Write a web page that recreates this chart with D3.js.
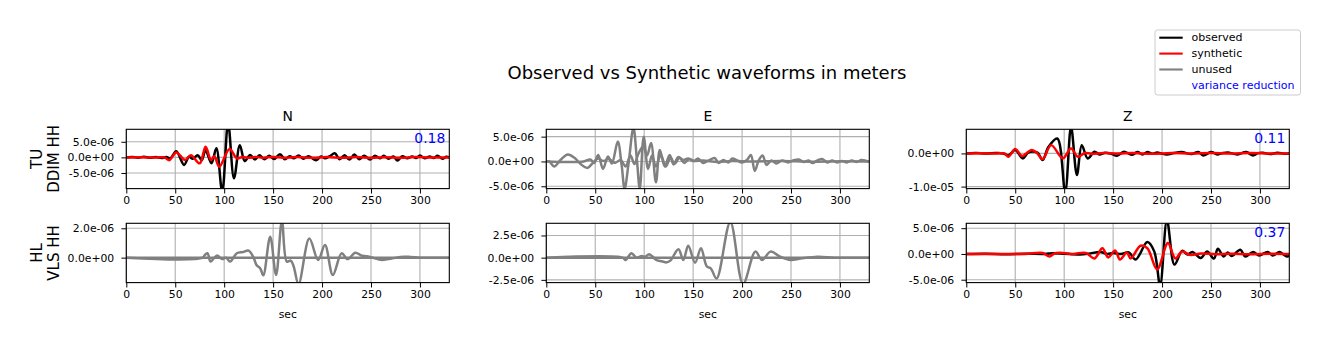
<!DOCTYPE html>
<html>
<head>
<meta charset="utf-8">
<script src="https://cdn.jsdelivr.net/npm/d3@7"></script>
<style>
    body { margin: 0; background: #fff; }
    text { font-family: "DejaVu Sans", sans-serif; }
</style>
</head>
<body>
<div id="chart"></div>
<script>
// values are in micrometers (1e-6 m), times in seconds
const UNIT = 1e-6;
const timeDomain = [0, 330];
const timeTicks = [0, 50, 100, 150, 200, 250, 300];
const components = ["N", "E", "Z"];
const stations = [["TU", "DDIM HH"], ["HL", "VLS HH"]];

// TU DDIM HH
const obsTU_N = [[0,0],[6,0.15],[12,-0.1],[18,0.2],[24,-0.15],[30,0.1],[36,-0.2],[41,0.1],[45,-0.3],[51,2.0],[59,-2.4],[64,0.2],[68,-0.4],[73,0.7],[77,-0.9],[81,2.3],[87,-1.9],[92,2.9],[98,-11],[104,11],[110,-6.7],[116,3.9],[121,-1.2],[126.5,0.8],[131.5,-0.7],[136,0.7],[141,-0.6],[146,0.5],[151,-0.5],[157,1.0],[162,-0.6],[167,0.4],[171,-0.3],[176,0.6],[181,-0.4],[186,0.4],[194,-0.9],[199,0.3],[203,-0.3],[208,0.4],[213,1.3],[218,-0.6],[223,0.7],[228,-0.7],[233,0.9],[238,-0.6],[243,0.5],[249,-0.7],[254,0.5],[259,-0.3],[263,0.5],[268,-0.4],[273,0.3],[277,-1.0],[282,0.4],[287,-0.3],[292,0.3],[296,-0.2],[300,0.6],[305,-0.3],[310,0.3],[314,-0.2],[318,0.5],[323,-0.4],[327,0.2],[330,0]];
const synTU_N = [[0,0],[15,0.05],[30,-0.05],[39,0],[44,-0.9],[51,1.6],[60,-0.8],[66,0.7],[75,-1.9],[81,3.4],[86.5,-0.8],[90,0.4],[95,-3.0],[105.5,2.7],[113,-0.3],[119,0.15],[125,-0.15],[132,0.1],[140,-0.1],[150,0.15],[160,-0.1],[175,0.1],[190,-0.1],[205,0.1],[220,-0.15],[235,0.1],[250,-0.1],[265,0.05],[280,-0.15],[295,0.1],[310,-0.05],[330,0]];
const obsTU_E = [[0,0],[38,0],[45,0.4],[49,-0.3],[53,1.3],[58,-1.5],[63,1.0],[67,-0.4],[73,4.0],[77,-0.8],[80,-5.5],[84,-0.5],[89,6.8],[92.5,0.5],[95.5,-5.5],[99.5,5.0],[104,-1.5],[108,1.2],[112,-1.0],[117,1.3],[122,-1.0],[127,0.8],[131,-0.5],[136,0.7],[141,-0.3],[146,0.5],[151,0.1],[155,0.6],[160,-0.3],[166,0.2],[172,0.7],[176,-0.3],[181,0.3],[186,-0.2],[190,0.6],[195,0.2],[200,-0.2],[205,0.3],[209,1.3],[213,-1.9],[217,0.2],[221,1.2],[225,-0.7],[230,0.2],[235,-0.4],[241,0.2],[247,-0.2],[252,0.2],[258,0.4],[263,-0.1],[268,0.2],[272,-0.3],[277,0.2],[282,0.5],[287,-0.2],[292,0.2],[297,-0.2],[302,0.1],[307,-0.2],[312,0.2],[317,-0.1],[322,0.3],[327,0.1],[330,0]];
const synTU_E = [[0,0],[3,0],[8,-1.0],[15,0.4],[22,1.4],[29,0.7],[35,-0.5],[42,-1.3],[48,-0.2],[53,0.6],[58,0.1],[64,0.5],[70,-0.3],[76,0.3],[81,-1.0],[86,1.2],[90,-0.5],[94,1.5],[99,3.0],[103,1.2],[107,3.7],[112,-4.2],[116,2.3],[121,-1.0],[126,1.3],[130,-0.6],[135,0.9],[140,0.3],[145,0.6],[150,0.1],[160,0.2],[175,-0.1],[190,0.1],[210,0],[240,0.1],[270,-0.05],[300,0.05],[330,0]];
const obsTU_Z = [[0,0],[10,0.1],[20,-0.05],[30,0.1],[38,0],[43,-0.6],[50,1.0],[57.7,-1.5],[63,0.2],[68,0.6],[73,0.2],[78,-2.0],[84,2.0],[93,4.5],[101,-11.5],[107,8],[113,-6.5],[118,2.5],[124,-1.5],[131,0.5],[136,-0.3],[142,0.2],[148,-0.1],[154,-0.7],[161,0.5],[169,-0.4],[175,0.4],[180,-0.3],[185,0.4],[190,-0.1],[195,0.3],[200,-0.1],[205,-0.3],[212,0.1],[220,0.4],[230,-0.2],[237,0.4],[242,-0.6],[250,0.4],[257,-0.3],[262,0.1],[267,0.3],[277,-0.3],[286,0.4],[293,-0.6],[298,0.1],[303,0.2],[310,-0.2],[318,0.2],[325,-0.1],[330,0]];
const synTU_Z = [[0,0],[15,0.05],[30,-0.05],[39,0],[43,-1.0],[50,1.3],[57,-0.8],[62,0.2],[67,1.0],[72,0.2],[78,-1.7],[86.7,2.5],[98.6,-1.5],[107,1.5],[114,-1.0],[121,0.1],[128,-0.1],[140,0.1],[155,-0.05],[170,0.1],[190,-0.1],[210,0.1],[230,-0.05],[250,0.1],[270,-0.05],[290,0.1],[310,-0.05],[330,0]];

// HL VLS HH
const obsHL_N = [[0,0],[330,0]];
const synHL_N = [[0,0],[78,0],[80.5,0.2],[83,0.3],[86,-0.27],[90,0.0],[93,0.14],[98,-0.1],[102,0.0],[106,-0.27],[113,0.3],[119,0.38],[125,0.48],[130,0.0],[133,-0.5],[137,-0.75],[140,-1.2],[147,1.43],[153,-1.18],[159,2.5],[164,-0.27],[168,-0.2],[171,-0.6],[176,-1.8],[187,1.3],[196,-0.16],[203,0.86],[211,-1.18],[220,0.3],[226,-0.1],[234,0.34],[240,0.15],[246,0.1],[254,-0.05],[260,-0.15],[268,-0.1],[280,0.05],[290,0.05],[300,0],[330,0]];
const obsHL_E = [[0,0],[330,0]];
const synHL_E = [[0,0],[78,0],[81,-0.26],[87,0.5],[92,0.0],[97.5,0.2],[101,0.1],[105,0.38],[112.7,-0.27],[118,-0.4],[123,-0.53],[127,-0.3],[135,0.95],[140,-0.27],[145,1.33],[152,-0.57],[158,1.06],[164,-1.0],[168,-1.2],[174,-2.35],[188,4.0],[201,-2.95],[213.6,0.68],[220.5,-0.27],[229,0.68],[239,0.1],[249.5,-0.27],[260,-0.1],[277,0.1],[295,0],[330,0]];
const obsHL_Z = [[0,0],[20,0.05],[40,-0.05],[60,0.05],[80,0],[89,0.15],[100,0.05],[116,-0.1],[125,0.05],[137,0.4],[144,0.0],[150,0.2],[158,0.0],[166,0.3],[173,-1.07],[185,2.3],[192,0.5],[198,-6.0],[205,6.5],[212.7,-2.07],[220.5,0.6],[226,-0.1],[231,0.4],[239.5,-0.8],[246,0.5],[253,-0.9],[257,1.0],[263,-0.5],[267,0.3],[271,-0.4],[280,0.8],[285,-0.5],[293,0.4],[299,-0.3],[308,0.4],[313,-0.3],[320,0.4],[324,-0.1],[328,-0.5],[330,-0.3]];
const synHL_Z = [[0,0],[30,0],[60,0],[78,0.2],[85,-0.5],[90,0.1],[99,0.2],[109,0],[122,0.2],[131,-0.87],[139,1.13],[145,-0.67],[152,0.67],[157,-1.07],[164,0.27],[168,-0.87],[178,1.6],[185,1.1],[195,-3.0],[206,2.13],[213.6,-0.87],[220.5,0.47],[229,-0.2],[240,0.1],[255,-0.05],[270,0.05],[290,-0.05],[310,0.05],[330,0]];

// axis limits and ticks (micrometers), variance reductions
const yLimits = [[[-10.0, 9.0], [-5.47, 6.48], [-10.6, 7.27]],
                 [[-1.7, 2.34], [-2.81, 3.87], [-5.56, 5.95]]];
const yTicks = [[[-5, 0, 5], [-5, 0, 5], [-10, 0]],
                [[0, 2], [-2.5, 0, 2.5], [-5, 0, 5]]];
const used = [[true, false, true], [false, false, true]];
const varRed = [[0.18, null, 0.11], [null, null, 0.37]];
const traces = [[[obsTU_N, synTU_N], [obsTU_E, synTU_E], [obsTU_Z, synTU_Z]],
                [[obsHL_N, synHL_N], [obsHL_E, synHL_E], [obsHL_Z, synHL_Z]]];

const legendNames = ["observed", "synthetic", "unused", "variance reduction"];
const legendColors = ["#000000", "#ff0000", "#808080", null];

function main() {
    let svg = d3.select("#chart").append("svg")
        .attr("width", 1329)
        .attr("height", 351);

    let colLeft = [126.3, 546.3, 966.3];
    let rowTop = [129.3, 223.3];
    let axW = 323, axH = 59.3;

    svg.append("text")
        .attr("x", 707)
        .attr("y", 78.5)
        .attr("text-anchor", "middle")
        .attr("font-size", "18px")
        .text("Observed vs Synthetic waveforms in meters");

    let fmt = function(v) {
        let s = (v * UNIT).toExponential(1);
        return s.replace(/e([+-])(\d)$/, "e$10$2");
    };

    for (let r = 0; r < 2; r++) {
        for (let c = 0; c < 3; c++) {
            let xScale = d3.scaleLinear().domain(timeDomain).range([0, axW]);
            let yScale = d3.scaleLinear().domain(yLimits[r][c]).range([axH, 0]);

            let g = svg.append("g")
                .attr("transform", "translate(" + colLeft[c] + "," + rowTop[r] + ")");

            let clipId = "clip" + r + c;
            g.append("clipPath").attr("id", clipId)
                .append("rect").attr("width", axW).attr("height", axH);

            // grid
            g.append("g").selectAll("line")
                .data(timeTicks)
                .enter().append("line")
                .attr("x1", d => xScale(d)).attr("x2", d => xScale(d))
                .attr("y1", 0).attr("y2", axH)
                .attr("stroke", "#b0b0b0").attr("stroke-width", 1.1);
            g.append("g").selectAll("line")
                .data(yTicks[r][c])
                .enter().append("line")
                .attr("x1", 0).attr("x2", axW)
                .attr("y1", d => yScale(d)).attr("y2", d => yScale(d))
                .attr("stroke", "#b0b0b0").attr("stroke-width", 1.1);

            let line = d3.line()
                .x(d => xScale(d[0]))
                .y(d => yScale(d[1]))
                .curve(d3.curveCatmullRom.alpha(0.5));

            let colors = used[r][c] ? ["#000000", "#ff0000"] : ["#808080", "#808080"];
            traces[r][c].forEach(function(tr, i) {
                g.append("path")
                    .datum(tr)
                    .attr("clip-path", "url(#" + clipId + ")")
                    .attr("d", line)
                    .attr("fill", "none")
                    .attr("stroke", colors[i])
                    .attr("stroke-width", 2.5)
                    .attr("stroke-linejoin", "round");
            });

            // axes
            let xa = g.append("g")
                .attr("transform", "translate(0," + axH + ")")
                .call(d3.axisBottom(xScale).tickValues(timeTicks).tickSize(4.9).tickSizeOuter(0).tickPadding(3.2));
            let ya = g.append("g")
                .call(d3.axisLeft(yScale).tickValues(yTicks[r][c]).tickFormat(fmt).tickSize(4.9).tickSizeOuter(0).tickPadding(7.2));
            [xa, ya].forEach(function(a) {
                a.select(".domain").remove();
                a.selectAll("text").attr("font-size", "10.8px").attr("fill", "#000")
                    .attr("font-family", "DejaVu Sans, sans-serif");
                a.selectAll("line").attr("stroke", "#000").attr("stroke-width", 1);
            });

            g.append("rect")
                .attr("width", axW).attr("height", axH)
                .attr("fill", "none").attr("stroke", "#000").attr("stroke-width", 1.1);

            if (r == 0) {
                g.append("text")
                    .attr("x", axW / 2).attr("y", -8.5)
                    .attr("text-anchor", "middle")
                    .attr("font-size", "13.9px")
                    .text(components[c]);
            } else {
                g.append("text")
                    .attr("x", axW / 2).attr("y", axH + 35)
                    .attr("text-anchor", "middle")
                    .attr("font-size", "10.8px")
                    .text("sec");
            }

            if (varRed[r][c] != null) {
                g.append("text")
                    .attr("x", axW - 4).attr("y", 14)
                    .attr("text-anchor", "end")
                    .attr("font-size", "13.9px")
                    .attr("fill", "#0000ff")
                    .text(varRed[r][c].toFixed(2));
            }

            if (c == 0) {
                stations[r].forEach(function(s, i) {
                    g.append("text")
                        .attr("transform", "translate(" + (-89 + i * 16.5) + "," + (axH / 2) + ") rotate(-90)")
                        .attr("text-anchor", "middle")
                        .attr("dominant-baseline", "central")
                        .attr("font-size", "15px")
                        .text(s);
                });
            }
        }
    }

    // legend
    let lg = svg.append("g").attr("transform", "translate(1155,30)");
    lg.append("rect")
        .attr("width", 145.5).attr("height", 65)
        .attr("rx", 2.5)
        .attr("fill", "#fff").attr("fill-opacity", 0.8)
        .attr("stroke", "#cccccc").attr("stroke-width", 1);
    legendNames.forEach(function(name, i) {
        let yy = 7.7 + i * 15.9;
        if (legendColors[i]) {
            lg.append("line")
                .attr("x1", 4.3).attr("x2", 27.7)
                .attr("y1", yy).attr("y2", yy)
                .attr("stroke", legendColors[i]).attr("stroke-width", 2.1);
        }
        lg.append("text")
            .attr("x", 36.5).attr("y", yy)
            .attr("dominant-baseline", "central")
            .attr("font-size", "11px")
            .attr("fill", legendColors[i] ? "#000" : "#0000ff")
            .text(name);
    });
}

main();
</script>
</body>
</html>
